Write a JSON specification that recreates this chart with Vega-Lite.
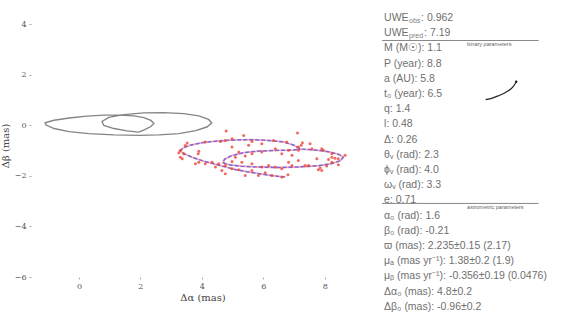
{
  "$schema": "https://vega.github.io/schema/vega-lite/v6.json",
  "padding": {"left": 0, "top": 12, "right": 0, "bottom": 0},
  "background": "white",
  "config": {"view": {"stroke": null}, "concat": {"spacing": 5}},
  "spacing": 5,
  "datasets": {
    "orbit": [
      {"i": 0, "x": 1.95, "y": -0.27}, {"i": 1, "x": 2.14, "y": -0.17}, {"i": 2, "x": 2.34, "y": -0.05},
      {"i": 3, "x": 2.44, "y": 0.07}, {"i": 4, "x": 2.34, "y": 0.19}, {"i": 5, "x": 2.11, "y": 0.3},
      {"i": 6, "x": 1.79, "y": 0.37}, {"i": 7, "x": 1.3, "y": 0.4}, {"i": 8, "x": 0.81, "y": 0.4},
      {"i": 9, "x": 0.26, "y": 0.36}, {"i": 10, "x": -0.32, "y": 0.29}, {"i": 11, "x": -0.81, "y": 0.2},
      {"i": 12, "x": -1.1, "y": 0.1}, {"i": 13, "x": -1.07, "y": 0.01}, {"i": 14, "x": -0.81, "y": -0.13},
      {"i": 15, "x": -0.32, "y": -0.25}, {"i": 16, "x": 0.32, "y": -0.33}, {"i": 17, "x": 1.14, "y": -0.38},
      {"i": 18, "x": 1.95, "y": -0.4}, {"i": 19, "x": 2.6, "y": -0.38}, {"i": 20, "x": 3.25, "y": -0.33},
      {"i": 21, "x": 3.8, "y": -0.21}, {"i": 22, "x": 4.16, "y": -0.07}, {"i": 23, "x": 4.32, "y": 0.09},
      {"i": 24, "x": 4.22, "y": 0.23}, {"i": 25, "x": 3.9, "y": 0.37}, {"i": 26, "x": 3.41, "y": 0.46},
      {"i": 27, "x": 2.76, "y": 0.5}, {"i": 28, "x": 2.11, "y": 0.49}, {"i": 29, "x": 1.46, "y": 0.42},
      {"i": 30, "x": 0.97, "y": 0.31}, {"i": 31, "x": 0.75, "y": 0.15}, {"i": 32, "x": 0.81, "y": -0.01},
      {"i": 33, "x": 1.14, "y": -0.13}, {"i": 34, "x": 1.56, "y": -0.22}, {"i": 35, "x": 1.95, "y": -0.27}
    ],
    "track": [
      {"i": 0, "x": 6.71, "y": -2.05}, {"i": 1, "x": 6.17, "y": -1.97}, {"i": 2, "x": 5.63, "y": -1.87},
      {"i": 3, "x": 5.09, "y": -1.75}, {"i": 4, "x": 4.55, "y": -1.58}, {"i": 5, "x": 4.06, "y": -1.42},
      {"i": 6, "x": 3.67, "y": -1.26}, {"i": 7, "x": 3.41, "y": -1.12}, {"i": 8, "x": 3.3, "y": -1.02},
      {"i": 9, "x": 3.38, "y": -0.9}, {"i": 10, "x": 3.64, "y": -0.78}, {"i": 11, "x": 4.06, "y": -0.68},
      {"i": 12, "x": 4.55, "y": -0.62}, {"i": 13, "x": 5.09, "y": -0.58}, {"i": 14, "x": 5.63, "y": -0.57},
      {"i": 15, "x": 6.17, "y": -0.6}, {"i": 16, "x": 6.66, "y": -0.66}, {"i": 17, "x": 6.98, "y": -0.78},
      {"i": 18, "x": 7.2, "y": -0.94}, {"i": 19, "x": 7.47, "y": -0.96}, {"i": 20, "x": 7.79, "y": -0.99},
      {"i": 21, "x": 8.18, "y": -1.06}, {"i": 22, "x": 8.47, "y": -1.16}, {"i": 23, "x": 8.6, "y": -1.26},
      {"i": 24, "x": 8.51, "y": -1.4}, {"i": 25, "x": 8.21, "y": -1.52}, {"i": 26, "x": 7.79, "y": -1.6},
      {"i": 27, "x": 7.14, "y": -1.65}, {"i": 28, "x": 6.49, "y": -1.67}, {"i": 29, "x": 5.84, "y": -1.65},
      {"i": 30, "x": 5.29, "y": -1.62}, {"i": 31, "x": 4.87, "y": -1.56}, {"i": 32, "x": 4.68, "y": -1.48},
      {"i": 33, "x": 4.74, "y": -1.34}, {"i": 34, "x": 4.97, "y": -1.2}, {"i": 35, "x": 5.36, "y": -1.08},
      {"i": 36, "x": 5.84, "y": -1.02}, {"i": 37, "x": 6.49, "y": -0.99}, {"i": 38, "x": 6.98, "y": -0.98},
      {"i": 39, "x": 7.2, "y": -0.94}
    ],
    "obs": [
      {"x": 4.79, "y": -0.23}, {"x": 5.36, "y": -0.4}, {"x": 7.11, "y": -0.31}, {"x": 4.76, "y": -0.6},
      {"x": 4.98, "y": -0.53}, {"x": 4.11, "y": -0.66}, {"x": 3.52, "y": -0.7}, {"x": 5.52, "y": -0.79},
      {"x": 5.95, "y": -0.73}, {"x": 6.76, "y": -0.66}, {"x": 7.27, "y": -0.69}, {"x": 7.52, "y": -0.73},
      {"x": 3.9, "y": -1.03}, {"x": 3.88, "y": -1.13}, {"x": 3.41, "y": -1.13}, {"x": 3.3, "y": -0.99},
      {"x": 3.25, "y": -1.09}, {"x": 3.3, "y": -1.26}, {"x": 3.36, "y": -1.32}, {"x": 4.98, "y": -0.86},
      {"x": 5.2, "y": -1.06}, {"x": 5.41, "y": -1.22}, {"x": 5.63, "y": -1.13}, {"x": 5.95, "y": -1.06},
      {"x": 6.39, "y": -0.93}, {"x": 6.6, "y": -1.13}, {"x": 6.82, "y": -0.99}, {"x": 7.58, "y": -0.93},
      {"x": 7.9, "y": -0.93}, {"x": 7.95, "y": -0.99}, {"x": 8.23, "y": -1.13}, {"x": 8.33, "y": -1.3},
      {"x": 8.66, "y": -1.19}, {"x": 8.44, "y": -1.32}, {"x": 8.23, "y": -1.46}, {"x": 8.44, "y": -1.56},
      {"x": 8.06, "y": -1.61}, {"x": 7.85, "y": -1.69}, {"x": 7.79, "y": -1.76}, {"x": 7.47, "y": -1.59},
      {"x": 7.36, "y": -1.59}, {"x": 7.14, "y": -1.39}, {"x": 6.93, "y": -1.19}, {"x": 5.95, "y": -1.65},
      {"x": 6.17, "y": -1.59}, {"x": 5.63, "y": -1.52}, {"x": 5.3, "y": -1.46}, {"x": 4.98, "y": -1.43},
      {"x": 4.76, "y": -1.59}, {"x": 4.65, "y": -1.79}, {"x": 4.76, "y": -1.92}, {"x": 4.98, "y": -1.72},
      {"x": 5.2, "y": -1.76}, {"x": 5.41, "y": -1.99}, {"x": 5.63, "y": -1.79}, {"x": 5.84, "y": -1.99},
      {"x": 6.06, "y": -1.88}, {"x": 6.28, "y": -1.99}, {"x": 6.6, "y": -2.05}, {"x": 6.8, "y": -1.96},
      {"x": 6.6, "y": -1.72}, {"x": 6.39, "y": -1.65}, {"x": 3.9, "y": -1.46}, {"x": 3.79, "y": -1.52},
      {"x": 4.11, "y": -1.52}, {"x": 4.33, "y": -1.46}, {"x": 4.55, "y": -1.52}, {"x": 5.09, "y": -1.26},
      {"x": 7.74, "y": -1.32}, {"x": 8.12, "y": -1.35}, {"x": 7.9, "y": -1.79}, {"x": 6.93, "y": -1.59},
      {"x": 8.23, "y": -1.26}, {"x": 7.23, "y": -0.79}, {"x": 7.14, "y": -0.99}, {"x": 4.44, "y": -1.65},
      {"x": 6.82, "y": -1.46}, {"x": 3.46, "y": -0.8}, {"x": 4.6, "y": -0.64}, {"x": 6.33, "y": -0.6},
      {"x": 7.14, "y": -0.86}, {"x": 5.63, "y": -0.64}
    ],
    "uwe": [
      {"row": 0, "label": "UWE", "sub": "obs", "value": ": 0.962"},
      {"row": 1, "label": "UWE", "sub": "pred", "value": ": 7.19"}
    ],
    "params": [
      {"row": 2, "label": "M (M☉):", "value": "1.1"},
      {"row": 3, "label": "P (year):", "value": "8.8"},
      {"row": 4, "label": "a (AU):", "value": "5.8"},
      {"row": 5, "label": "t₀ (year):", "value": "6.5"},
      {"row": 6, "label": "q:", "value": "1.4"},
      {"row": 7, "label": "l:", "value": "0.48"},
      {"row": 8, "label": "Δ:", "value": "0.26"},
      {"row": 9, "label": "θᵥ (rad):", "value": "2.3"},
      {"row": 10, "label": "ϕᵥ (rad):", "value": "4.0"},
      {"row": 11, "label": "ωᵥ (rad):", "value": "3.3"},
      {"row": 12, "label": "e:", "value": "0.71"},
      {"row": 13, "label": "α₀ (rad):", "value": "1.6"},
      {"row": 14, "label": "β₀ (rad):", "value": "-0.21"},
      {"row": 15, "label": "ϖ (mas):", "value": "2.235±0.15 (2.17)"},
      {"row": 16, "label": "μₐ (mas yr⁻¹):", "value": "1.38±0.2 (1.9)"},
      {"row": 17, "label": "μᵦ (mas yr⁻¹):", "value": "-0.356±0.19 (0.0476)"},
      {"row": 18, "label": "Δα₀ (mas):", "value": "4.8±0.2"},
      {"row": 19, "label": "Δβ₀ (mas):", "value": "-0.96±0.2"}
    ],
    "seps": [
      {"row": 1.48, "note": "binary parameters", "nrow": 1.74},
      {"row": 12.2, "note": "astrometric parameters", "nrow": 12.46}
    ],
    "arrow": [
      {"i": 0, "x": 0.528, "row": 5.375},
      {"i": 1, "x": 0.562, "row": 5.27},
      {"i": 2, "x": 0.594, "row": 5.1},
      {"i": 3, "x": 0.622, "row": 4.93},
      {"i": 4, "x": 0.644, "row": 4.76},
      {"i": 5, "x": 0.662, "row": 4.55},
      {"i": 6, "x": 0.677, "row": 4.257}
    ],
    "arrowhead": [{"x": 0.679, "row": 4.19}]
  },
  "hconcat": [
    {
      "width": 343,
      "height": 263,
      "encoding": {
        "x": {
          "field": "x", "type": "quantitative",
          "scale": {"domain": [-1.56, 9.6], "nice": false, "zero": false},
          "axis": {
            "title": "Δα (mas)", "values": [0, 2, 4, 6, 8], "format": "d",
            "domain": false, "grid": false, "tickSize": 2, "tickColor": "#aaaaaa",
            "labelFont": "DejaVu Serif", "labelFontSize": 8, "labelColor": "#555555", "labelPadding": 3,
            "titleFont": "DejaVu Serif", "titleFontSize": 10, "titleFontWeight": "normal", "titleColor": "#444444", "titlePadding": 2
          }
        },
        "y": {
          "field": "y", "type": "quantitative",
          "scale": {"domain": [-6, 4.4], "nice": false, "zero": false},
          "axis": {
            "title": "Δβ (mas)", "values": [-6, -4, -2, 0, 2, 4], "format": "d",
            "domain": false, "grid": false, "tickSize": 2, "tickColor": "#aaaaaa",
            "labelFont": "DejaVu Serif", "labelFontSize": 8, "labelColor": "#555555", "labelPadding": 3,
            "titleFont": "DejaVu Serif", "titleFontSize": 10, "titleFontWeight": "normal", "titleColor": "#444444", "titlePadding": 4
          }
        }
      },
      "layer": [
        {
          "data": {"name": "orbit"},
          "mark": {"type": "line", "color": "#858585", "strokeWidth": 1.4},
          "encoding": {"order": {"field": "i", "type": "quantitative"}}
        },
        {
          "data": {"name": "track"},
          "mark": {"type": "line", "color": "#f26060", "strokeWidth": 1.8, "opacity": 0.5},
          "encoding": {"order": {"field": "i", "type": "quantitative"}}
        },
        {
          "data": {"name": "track"},
          "mark": {"type": "line", "color": "#3030ff", "strokeWidth": 1.5, "opacity": 0.6, "strokeDash": [4, 2]},
          "encoding": {"order": {"field": "i", "type": "quantitative"}}
        },
        {
          "data": {"name": "obs"},
          "mark": {"type": "circle", "color": "#ee4636", "size": 9, "opacity": 0.8}
        }
      ]
    },
    {
      "width": 202,
      "height": 300,
      "layer": [
        {
          "data": {"name": "seps"},
          "mark": {"type": "rule", "color": "#888888", "strokeWidth": 1},
          "encoding": {
            "x": {"datum": 0.015, "type": "quantitative", "scale": {"domain": [0, 1], "nice": false, "zero": false}, "axis": null},
            "x2": {"datum": 0.79},
            "y": {"field": "row", "type": "quantitative", "scale": {"domain": [-0.263, 19.474], "reverse": true, "nice": false, "zero": false}, "axis": null}
          }
        },
        {
          "data": {"name": "seps"},
          "mark": {"type": "text", "align": "left", "baseline": "middle", "font": "Liberation Sans", "fontSize": 5.5, "color": "#666666"},
          "encoding": {
            "x": {"datum": 0.436, "type": "quantitative"},
            "y": {"field": "nrow", "type": "quantitative"},
            "text": {"field": "note"}
          }
        },
        {
          "data": {"name": "params"},
          "transform": [{"calculate": "datum.label + ' ' + datum.value", "as": "full"}],
          "mark": {"type": "text", "align": "left", "baseline": "middle", "font": "Liberation Sans", "fontSize": 10.5, "color": "#707070"},
          "encoding": {
            "x": {"datum": 0.025, "type": "quantitative"},
            "y": {"field": "row", "type": "quantitative"},
            "text": {"field": "full"}
          }
        },
        {
          "data": {"name": "uwe"},
          "mark": {"type": "text", "align": "left", "baseline": "middle", "font": "Liberation Sans", "fontSize": 10.5, "color": "#707070"},
          "encoding": {
            "x": {"datum": 0.025, "type": "quantitative"},
            "y": {"field": "row", "type": "quantitative"},
            "text": {"field": "label"}
          }
        },
        {
          "data": {"name": "uwe"},
          "mark": {"type": "text", "align": "left", "baseline": "middle", "font": "Liberation Sans", "fontSize": 7, "color": "#808080", "dx": 25, "dy": 3},
          "encoding": {
            "x": {"datum": 0.025, "type": "quantitative"},
            "y": {"field": "row", "type": "quantitative"},
            "text": {"field": "sub"}
          }
        },
        {
          "data": {"name": "uwe"},
          "transform": [{"filter": "datum.row == 0"}],
          "mark": {"type": "text", "align": "left", "baseline": "middle", "font": "Liberation Sans", "fontSize": 10.5, "color": "#707070", "dx": 37},
          "encoding": {
            "x": {"datum": 0.025, "type": "quantitative"},
            "y": {"field": "row", "type": "quantitative"},
            "text": {"field": "value"}
          }
        },
        {
          "data": {"name": "uwe"},
          "transform": [{"filter": "datum.row == 1"}],
          "mark": {"type": "text", "align": "left", "baseline": "middle", "font": "Liberation Sans", "fontSize": 10.5, "color": "#707070", "dx": 40},
          "encoding": {
            "x": {"datum": 0.025, "type": "quantitative"},
            "y": {"field": "row", "type": "quantitative"},
            "text": {"field": "value"}
          }
        },
        {
          "data": {"name": "arrow"},
          "mark": {"type": "line", "color": "#222222", "strokeWidth": 1.2, "interpolate": "monotone"},
          "encoding": {
            "x": {"field": "x", "type": "quantitative"},
            "y": {"field": "row", "type": "quantitative"},
            "order": {"field": "i", "type": "quantitative"}
          }
        },
        {
          "data": {"name": "arrowhead"},
          "mark": {"type": "circle", "color": "#111111", "size": 6, "opacity": 1},
          "encoding": {
            "x": {"field": "x", "type": "quantitative"},
            "y": {"field": "row", "type": "quantitative"}
          }
        }
      ]
    }
  ]
}
